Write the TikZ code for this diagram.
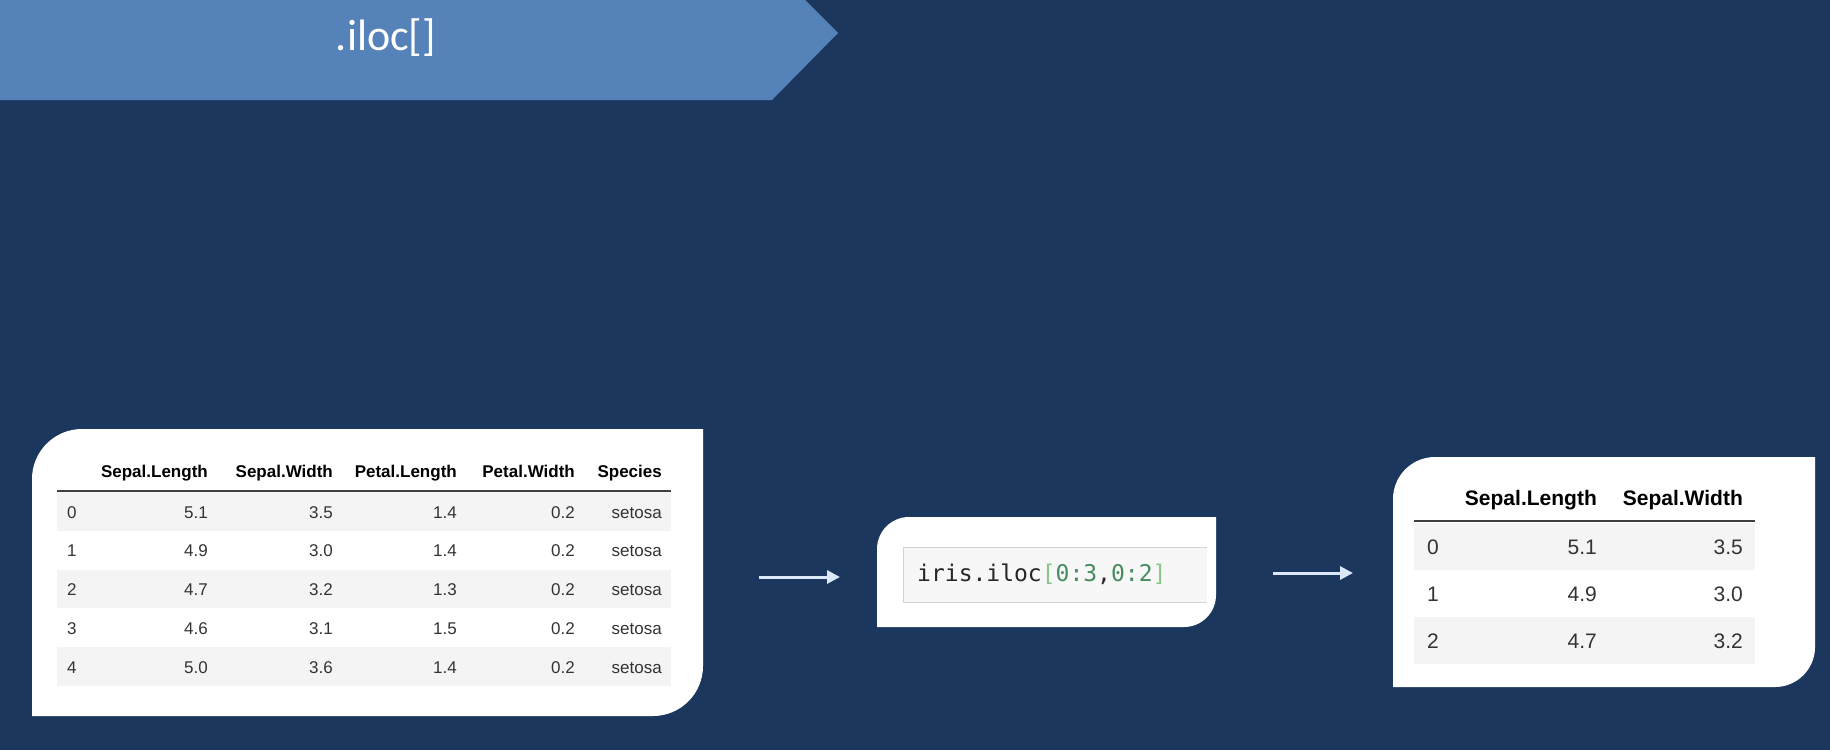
\documentclass[tikz,border=0pt]{standalone}
\usepackage{fontspec}
\setmainfont{Liberation Sans}
\newfontfamily\titlefont{Carlito}
\newfontfamily\codefont{DejaVu Sans Mono}
\usepackage{tikz}
\usetikzlibrary{arrows.meta, positioning}

\definecolor{navy}{RGB}{28,55,93}
\definecolor{banner}{RGB}{85,130,185}
\definecolor{stripe}{RGB}{244,244,244}
\definecolor{arrowc}{RGB}{218,232,247}
\definecolor{codebg}{RGB}{247,247,247}
\definecolor{codeline}{RGB}{212,212,212}
\definecolor{numc}{RGB}{70,140,95}
\definecolor{brac}{RGB}{135,200,135}

\begin{document}
\begin{tikzpicture}[
  x=1pt, y=-1pt,
  panel/.style={fill=white},
  title/.style={inner sep=0pt, anchor=base, text=white,
    font=\titlefont\fontsize{44}{50}\selectfont},
  cellL/.style={inner sep=0pt, anchor=base east, text=black!80,
    font=\fontsize{17}{20}\selectfont},
  headL/.style={cellL, text=black, font=\fontsize{17}{20}\selectfont\bfseries},
  cellR/.style={inner sep=0pt, anchor=base east, text=black!80,
    font=\fontsize{21}{25}\selectfont},
  headR/.style={cellR, text=black, font=\fontsize{21}{25}\selectfont\bfseries},
  rule/.style={line width=2pt, black!75},
  code/.style={inner sep=0pt, anchor=west, text=black!85,
    font=\codefont\fontsize{23}{27}\selectfont},
  arrow/.style={-{Triangle[length=13pt, width=13pt]}, line width=3pt, arrowc}
]
  \fill[navy] (0,0) rectangle (1830,750);

  \fill[banner] (0,0) -- (805,0) -- (838,33) -- (772,100) -- (0,100) -- cycle;
  \node[title] (ttl) at (386,50) {.iloc[]};

  \fill[panel] (32,716) -- (32,479) arc[start angle=180, end angle=270, radius=50]
    -- (703,429) -- (703,666) arc[start angle=0, end angle=90, radius=50] -- cycle;
  \fill[panel] (877,627) -- (877,549) arc[start angle=180, end angle=270, radius=32]
    -- (1216,517) -- (1216,595) arc[start angle=0, end angle=90, radius=32] -- cycle;
  \fill[panel] (1393,687) -- (1393,499) arc[start angle=180, end angle=270, radius=42]
    -- (1815,457) -- (1815,647) arc[start angle=0, end angle=90, radius=40] -- cycle;

  \foreach \i in {0,2,4}
    \fill[stripe] (57,{492+38.75*\i}) rectangle (671,{530.75+38.75*\i});
  \draw[rule] (57,491) -- (671,491);
  \node[headL] (srch1) at (208,477) {Sepal.Length};
  \node[headL] (srch2) at (333,477) {Sepal.Width};
  \node[headL] (srch3) at (457,477) {Petal.Length};
  \node[headL] (srch4) at (575,477) {Petal.Width};
  \node[headL] (srch5) at (662,477) {Species};
  \foreach \i/\a/\b/\c/\d in {0/5.1/3.5/1.4/0.2, 1/4.9/3.0/1.4/0.2,
      2/4.7/3.2/1.3/0.2, 3/4.6/3.1/1.5/0.2, 4/5.0/3.6/1.4/0.2} {
    \node[cellL, anchor=base west] (srcidx\i) at (67,{518+38.75*\i}) {\i};
    \node[cellL] (srcsl\i) at (208,{518+38.75*\i}) {\a};
    \node[cellL] (srcsw\i) at (333,{518+38.75*\i}) {\b};
    \node[cellL] (srcpl\i) at (457,{518+38.75*\i}) {\c};
    \node[cellL] (srcpw\i) at (575,{518+38.75*\i}) {\d};
    \node[cellL] (srcsp\i) at (662,{518+38.75*\i}) {setosa};
  }

  \fill[codebg] (903,547) rectangle (1207,602);
  \draw[codeline] (1207,547) -- (903,547) -- (903,602) -- (1207,602);
  \node[code] (cmd) at (917,574) {iris.iloc\textcolor{brac}{[}\textcolor{numc}{0:3}%
    ,\textcolor{numc}{0:2}\textcolor{brac}{]}};

  \foreach \i in {0,2}
    \fill[stripe] (1414,{522.5+47*\i}) rectangle (1755,{569.5+47*\i});
  \draw[rule] (1414,521) -- (1755,521);
  \node[headR] (outh1) at (1597,505) {Sepal.Length};
  \node[headR] (outh2) at (1743,505) {Sepal.Width};
  \foreach \i/\a/\b in {0/5.1/3.5, 1/4.9/3.0, 2/4.7/3.2} {
    \node[cellR, anchor=base west] (outidx\i) at (1427,{554+47*\i}) {\i};
    \node[cellR] (outsl\i) at (1597,{554+47*\i}) {\a};
    \node[cellR] (outsw\i) at (1743,{554+47*\i}) {\b};
  }

  \coordinate (in1) at (759,577);
  \coordinate (in2) at (840,577);
  \coordinate (out1) at (1273,573);
  \coordinate (out2) at (1353,573);
  \draw[arrow] (in1) -- (in2);
  \draw[arrow] (out1) -- (out2);
\end{tikzpicture}
\end{document}
